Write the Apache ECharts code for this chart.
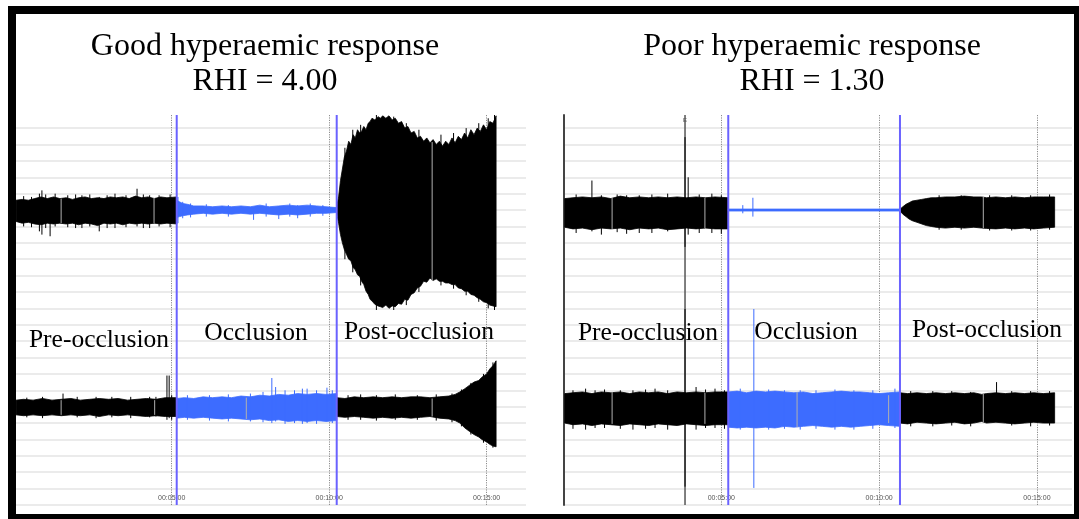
<!DOCTYPE html>
<html><head><meta charset="utf-8">
<script src="https://cdn.jsdelivr.net/npm/echarts@6/dist/echarts.min.js"></script>
<style>html,body{margin:0;padding:0;background:#fff}#c{width:1079px;height:519px}</style>
</head><body><div id="c"></div>
<script>
// ---------- DATA (time in minutes, amplitude in arbitrary units; 10 units per grid line) ----------
const tickMinutes = [5, 10, 15];
const tickLabels = ['00:05:00', '00:10:00', '00:15:00'];
const titlesLeft = ['Good hyperaemic response', 'RHI = 4.00'];
const titlesRight = ['Poor hyperaemic response', 'RHI = 1.30'];
const phaseLabels = ['Pre-occlusion', 'Occlusion', 'Post-occlusion'];

// occlusion start / end markers (minutes)
const occLeft = [5.16, 10.24];
const occRight = [5.22, 10.66];
const eventRight = 3.85;
const eventLabel = 'E';

// Envelopes: [time, low, high]
// Left panel, upper trace
const LT_pre = [[0.06,173,186],[0.25,172,186.5],[0.45,172.5,186],[0.65,171.5,187],[0.85,171,188],[1.05,172,187],[1.25,171.5,188],[1.45,172,187],[1.65,171.5,187.5],[1.85,172,186.5],[2.05,171,187.5],[2.25,172,188],[2.45,171.5,187],[2.65,170.5,187.5],[2.85,172,187],[3.05,171.5,188],[3.25,172,187.5],[3.45,171,188],[3.65,172,187],[3.85,171.5,188.5],[4.05,172,187.5],[4.25,171.5,188],[4.45,172,187],[4.65,171.5,188],[4.85,172,187.5],[5.16,171.5,188]];
const LT_occ = [[5.16,175.5,186],[5.25,176,185],[5.35,176.5,184],[5.5,177,183.5],[5.7,177.5,182.5],[6.0,178,182.5],[6.3,177.5,182],[6.6,178,182.5],[6.9,177.5,182],[7.2,178,182.5],[7.5,177.5,182],[7.8,178,183],[8.1,177.5,182],[8.4,177,182.5],[8.7,177.5,183],[9.0,177,182.5],[9.3,177.5,183],[9.6,178,182.5],[9.9,178,182],[10.24,178.5,181.5]];
const LT_post = [[10.24,178,182],[10.3,172,188],[10.36,165,198],[10.42,160,205],[10.48,156,212],[10.55,153,216],[10.62,150,222],[10.69,149,220],[10.76,145,226],[10.83,143.5,224],[10.9,140.5,229],[10.97,139.5,227],[11.03,136.5,228],[11.1,134.5,231],[11.17,130.5,229],[11.24,128.5,233],[11.3,125.5,234],[11.36,124.5,236],[11.45,122.5,235],[11.55,121.5,237],[11.63,121,236],[11.7,120.5,237.5],[11.8,122,236],[11.9,120,237.5],[12.0,121.5,235],[12.1,121,236],[12.2,123,233],[12.3,122.5,234],[12.4,125.5,230],[12.5,125,231],[12.6,128.5,227],[12.7,129.5,228],[12.8,132.5,224],[12.9,133.5,225],[13.0,136.5,222],[13.1,136,224],[13.2,138.5,221],[13.3,137,223],[13.4,138,220],[13.5,136.5,222],[13.6,136.5,219],[13.7,135.5,222],[13.8,135.5,220],[13.9,134.5,224],[14.0,134.5,221],[14.1,132.5,225],[14.2,132,223],[14.3,130.5,227],[14.4,130.5,224],[14.5,128.5,229],[14.6,128,226],[14.7,126.5,230],[14.8,125.5,228],[14.9,124,232],[15.0,123.5,229],[15.1,122,234],[15.2,121.5,233],[15.3,121,237.5]];
const LT_preSpikes = [[0.3,170,188.5],[0.55,169.5,188],[0.8,167,190],[0.88,165,192],[1.0,169,189.5],[1.14,164,187],[1.3,170,190],[1.7,169.5,189],[1.95,169,189.5],[2.15,169,189],[2.4,170,189.5],[2.7,167,188],[2.95,169,189],[3.2,169,190],[3.55,169.5,189],[3.9,170,193],[4.1,169,189.5],[4.3,169,189],[4.6,170,189],[4.95,169.5,189.5]];
const LT_occSpikes = [[5.2,172,188],[5.35,175,185],[5.6,175.5,184],[6.1,176,183.5],[6.8,176,183],[7.6,174,181],[8.0,176,184],[8.4,174.5,181],[8.75,176,184],[9.0,175,183],[9.4,176,184],[9.8,176.5,183]];
const LT_postSpikes = [[10.5,150,218],[10.75,142,229],[11.0,134,232],[11.5,119,238],[12.05,119,237],[12.45,122,233],[12.85,130,229],[13.55,134,226],[13.95,132,227],[14.35,128,230],[14.75,124,233],[15.05,120,236],[15.25,119,238]];
const LT_gaps = [[1.49,172,187],[4.44,172,187.5],[13.27,137,221.5]];

// Left panel, lower trace
const LB_pre = [[0.06,55,64],[0.3,54.5,64.5],[0.6,55,64],[0.9,54.5,65],[1.2,55,64],[1.5,54.5,64.5],[1.8,55,65],[2.1,54.5,64],[2.4,55,64.5],[2.7,54,65],[3.0,55,64.5],[3.3,54.5,65],[3.6,55,64],[3.9,54.5,64.5],[4.2,54,65],[4.5,54.5,64.5],[4.8,54,65.5],[5.16,54,65.5]];
const LB_occ = [[5.16,53,65],[5.4,53.5,65.5],[5.7,53,65],[6.0,53.5,66],[6.3,53,65.5],[6.6,52.5,66],[6.9,53,65.5],[7.2,52.5,66.5],[7.5,52,66],[7.8,52.5,67],[8.1,51.5,66.5],[8.4,52,67.5],[8.7,51,67],[9.0,51.5,68],[9.3,51,67.5],[9.6,51.5,68],[9.9,51,67.5],[10.24,51.5,68]];
const LB_post = [[10.24,54,65.5],[10.5,53.5,65],[10.8,54,66],[11.1,53.5,65.5],[11.4,53,66],[11.7,53.5,65.5],[12.0,53,66],[12.3,53.5,65.5],[12.6,53,66],[12.9,53.5,66],[13.2,54,65.5],[13.5,53,66],[13.8,52.5,66.5],[14.0,51.5,67.5],[14.15,50,69],[14.31,47,71],[14.45,45,73],[14.6,43,75],[14.75,41.5,76],[14.85,40,78],[15.0,38.5,80],[15.1,37,83],[15.2,36,85],[15.3,35.5,88]];
const LB_preSpikes = [[0.4,53.5,65.5],[0.9,53,66],[1.55,55,68],[2.0,53.5,66],[2.6,53,66],[3.1,53.5,66],[3.7,53,66],[4.3,53.5,66],[4.5,54,66],[4.85,52,79],[4.92,53,79],[5.0,52,67]];
const LB_occSpikes = [[5.5,52,67],[6.2,51.5,67],[6.8,51,67.5],[7.5,51,68],[7.9,50.5,69],[8.18,50,77.5],[8.3,51,72],[8.6,49.5,70],[8.9,50,70],[9.15,49.5,71],[9.3,50,71],[9.6,49.5,70],[9.93,51,71.6],[10.1,50,70]];
const LB_postSpikes = [[10.6,52,67],[11.0,52,67.5],[11.5,51.5,67],[12.1,52,67.5],[12.8,52,67],[13.4,51.5,67.5],[13.9,50.5,68],[14.2,48,70.5],[14.5,43,74.5],[14.9,38,80],[15.2,35,87]];
const LB_gaps = [[1.49,55,64],[4.46,55,64],[7.37,52.5,65.5],[13.27,54,65]];

// Right panel, upper trace
const RT_pre = [[0.04,169.5,187],[0.3,168.5,187.5],[0.6,169,188],[0.9,168,187.5],[1.2,169,188],[1.5,168.5,187],[1.8,169,188.5],[2.1,168,187.5],[2.4,169,188],[2.7,168.5,187.5],[3.0,169,188],[3.3,168,187.5],[3.6,168.5,188],[3.9,169,187.5],[4.2,168.5,188],[4.5,169,187.5],[4.8,168.5,188],[5.22,168.5,187.5]];
const RT_occ = [[5.22,179.4,180.6],[10.66,179.4,180.6]];
const RT_post = [[10.66,179.5,180.5],[10.75,177.5,182],[10.85,176,183.5],[10.95,174.5,184.5],[11.05,173.5,185.5],[11.2,172.5,186],[11.35,171.5,186.5],[11.5,170.5,187],[11.65,170,187.5],[11.8,169.5,187.5],[12.1,169,188],[12.4,169.5,188],[12.7,169,188.5],[13.0,169.5,188],[13.25,169,188],[13.4,168.8,187.5],[13.7,168.5,188],[14.0,169,187.5],[14.3,168.5,188],[14.6,169,187.5],[14.9,168.5,188],[15.2,169,188],[15.56,169.5,188]];
const RT_preSpikes = [[0.4,166,189.5],[0.9,167,198],[1.2,165,189],[1.7,166.5,189.5],[2.0,165.5,189],[2.4,166,189],[2.8,166,189.5],[3.3,167,190],[3.85,157.5,224.5],[3.95,165,200],[4.3,166,189.5],[4.7,166,190],[5.0,165.5,189]];
const RT_occSpikes = [[5.68,178,183],[6.0,176,187.5]];
const RT_postSpikes = [[11.9,168,189],[12.6,168,189],[13.5,167.5,189],[14.2,167.5,189],[14.8,167.5,189],[15.4,168,189.5]];
const RT_gaps = [[1.54,168.5,187.5],[4.48,169,187.5],[13.3,169,188]];

// Right panel, lower trace
const RB_pre = [[0.04,50,68],[0.3,49,68.5],[0.6,49.5,69],[0.9,48.5,68],[1.2,49.5,69],[1.5,49,68.5],[1.8,48.5,69],[2.1,49.5,68],[2.4,49,69],[2.7,48.5,68.5],[3.0,49.5,69],[3.3,49,68],[3.6,48.5,69],[3.9,49.5,68.5],[4.2,49,69],[4.5,48.5,68.5],[4.8,49,69],[5.22,49,69]];
const RB_occ = [[5.22,47.5,69],[5.5,47,69.5],[5.8,47.5,68.5],[6.1,47,69.5],[6.4,47.5,69],[6.7,47,69.5],[7.0,48,69],[7.3,47.5,68.5],[7.6,48,69],[7.9,48.5,68],[8.2,48,68.5],[8.5,47.5,69],[8.8,48,69.5],[9.1,47.5,69],[9.4,48,69],[9.7,48.5,68.5],[10.0,49,68],[10.3,48.5,68.5],[10.66,48,69]];
const RB_post = [[10.66,50,68.5],[10.9,49.5,68],[11.2,50.5,68.5],[11.5,50,68],[11.8,49.5,68.5],[12.1,50,68],[12.4,50.5,68.5],[12.7,49.5,68],[13.0,50,68.5],[13.25,51,67.5],[13.4,50,68],[13.7,50.5,68.5],[14.0,50,68],[14.3,49.5,68.5],[14.6,50,68],[14.9,50.5,68.5],[15.2,50,68],[15.56,50,68.5]];
const RB_preSpikes = [[0.3,46.5,70],[0.7,46,71],[1.0,47,70],[1.3,47,70.5],[1.8,46.5,70],[2.2,46,70],[2.6,46.5,70.5],[2.9,47,71],[3.3,46,70],[3.85,11.2,119.6],[4.2,46,72],[4.5,47,70.5],[4.8,47,71],[5.1,46.5,70]];
const RB_occSpikes = [[5.6,46,71],[6.03,10.4,119.6],[6.5,46,70.5],[7.0,46.5,70],[7.5,46,70],[8.0,46.5,70],[8.6,46,70.5],[9.2,46,70],[9.8,46.5,70],[10.5,47,71]];
const RB_postSpikes = [[11.0,48,69.5],[11.7,48,69.5],[12.3,48.5,69.5],[12.9,48,69],[13.72,52,75],[14.2,48.5,69.5],[14.8,48,69.5],[15.4,48.5,69.5]];
const RB_gaps = [[1.54,49.5,69],[4.48,49.5,68.5],[7.4,47.5,69],[10.3,50,67],[13.3,50.5,68]];

// ---------- STYLE ----------
const BLACK = '#000000';
const BLUE = '#3d6cff';
const MARK = '#6a62ff';
const GRID = '#e4e4e4';
const GAP = '#b0b0b0';
const serif = '"Liberation Serif", "Times New Roman", serif';

function bandSeries(gi, pts, color) {
  return {
    type: 'custom', xAxisIndex: gi, yAxisIndex: gi, silent: true, z: 3,
    data: [[pts[0][0], pts[0][1]]], encode: {x: 0, y: 1},
    renderItem: function (params, api) {
      const up = pts.map(p => api.coord([p[0], p[2]]));
      const dn = pts.slice().reverse().map(p => api.coord([p[0], p[1]]));
      return {type: 'polygon', shape: {points: up.concat(dn)},
        style: {fill: color, stroke: color, lineWidth: 0.8}};
    }
  };
}
function spikeSeries(gi, pts, color, w, z) {
  return {
    type: 'custom', xAxisIndex: gi, yAxisIndex: gi, silent: true, z: z || 4,
    data: pts, encode: {x: 0, y: [1, 2]},
    renderItem: function (params, api) {
      const a = api.coord([api.value(0), api.value(1)]);
      const b = api.coord([api.value(0), api.value(2)]);
      return {type: 'line', shape: {x1: a[0], y1: a[1], x2: b[0], y2: b[1]},
        style: {stroke: color, lineWidth: w || 1}};
    }
  };
}
function markSeries(gi, times, color, w, z) {
  return {
    type: 'custom', xAxisIndex: gi, yAxisIndex: gi, silent: true, z: z || 6,
    data: times.map(t => [t]), encode: {x: 0},
    renderItem: function (params, api) {
      const a = api.coord([api.value(0), 0]);
      const b = api.coord([api.value(0), 238]);
      return {type: 'line', shape: {x1: a[0], y1: a[1], x2: b[0], y2: b[1]},
        style: {stroke: color, lineWidth: w}};
    }
  };
}

const XMAX = [16.25, 16.11];
function xAxis(gi) {
  return {
    type: 'value', gridIndex: gi, min: 0, max: XMAX[gi], interval: 5,
    axisLine: {show: false}, axisTick: {show: false},
    axisLabel: {inside: true, margin: 3, fontSize: 7, color: '#555', fontFamily: '"Liberation Sans", Arial',
      showMinLabel: false, showMaxLabel: false,
      formatter: v => { const i = tickMinutes.indexOf(v); return i >= 0 ? tickLabels[i] : ''; }},
    splitLine: {show: true, showMinLine: false, showMaxLine: false,
      lineStyle: {color: '#8c8c8c', type: [1.2, 1.2], width: 1}}
  };
}
function yAxis(gi) {
  return {
    type: 'value', gridIndex: gi, min: 0, max: 238, interval: 10,
    axisLabel: {show: false}, axisTick: {show: false},
    axisLine: {show: gi === 1, lineStyle: {color: '#444', width: 2}},
    splitLine: {show: true, showMaxLine: false, lineStyle: {color: GRID, width: 1.6}}
  };
}

function txt(x, y, s, size) {
  return {type: 'text', x: x, y: y, z: 10,
    style: {text: s, fill: '#000', font: size + 'px ' + serif, textAlign: 'center', textVerticalAlign: 'middle'}};
}

const chart = echarts.init(document.getElementById('c'), null, {renderer: 'canvas'});
chart.setOption({
  animation: false,
  backgroundColor: '#fff',
  grid: [
    {left: 14.2, top: 115, width: 511.8, height: 390},
    {left: 563.5, top: 115, width: 508.5, height: 390}
  ],
  xAxis: [xAxis(0), xAxis(1)],
  yAxis: [yAxis(0), yAxis(1)],
  series: [
    bandSeries(0, LT_pre, BLACK), bandSeries(0, LT_occ, BLUE), bandSeries(0, LT_post, BLACK),
    bandSeries(0, LB_pre, BLACK), bandSeries(0, LB_occ, BLUE), bandSeries(0, LB_post, BLACK),
    spikeSeries(0, LT_preSpikes, BLACK), spikeSeries(0, LT_occSpikes, BLUE), spikeSeries(0, LT_postSpikes, BLACK),
    spikeSeries(0, LB_preSpikes, BLACK), spikeSeries(0, LB_occSpikes, BLUE), spikeSeries(0, LB_postSpikes, BLACK),
    spikeSeries(0, LT_gaps, GAP, 1, 5), spikeSeries(0, LB_gaps, GAP, 1, 5),
    markSeries(0, occLeft, MARK, 2),

    bandSeries(1, RT_pre, BLACK), bandSeries(1, RT_occ, BLUE), bandSeries(1, RT_post, BLACK),
    bandSeries(1, RB_pre, BLACK), bandSeries(1, RB_occ, BLUE), bandSeries(1, RB_post, BLACK),
    spikeSeries(1, RT_preSpikes, BLACK), spikeSeries(1, RT_occSpikes, BLUE), spikeSeries(1, RT_postSpikes, BLACK),
    spikeSeries(1, RB_preSpikes, BLACK), spikeSeries(1, RB_occSpikes, BLUE), spikeSeries(1, RB_postSpikes, BLACK),
    spikeSeries(1, RT_gaps, GAP, 1, 5), spikeSeries(1, RB_gaps, GAP, 1, 5),
    markSeries(1, [eventRight], '#555', 1.5, 2),
    markSeries(1, occRight, MARK, 2),
    {
      type: 'custom', xAxisIndex: 1, yAxisIndex: 1, silent: true, z: 7,
      data: [[eventRight, 235]], encode: {x: 0, y: 1},
      renderItem: function (params, api) {
        const p = api.coord([api.value(0), api.value(1)]);
        return {type: 'text', x: p[0], y: p[1],
          style: {text: eventLabel, font: '6px "Liberation Sans"', fill: '#555', textAlign: 'center', textVerticalAlign: 'middle'}};
      }
    }
  ],
  graphic: [
    txt(265, 47, titlesLeft[0], 32), txt(265, 82, titlesLeft[1], 32),
    txt(812, 47, titlesRight[0], 32), txt(812, 82, titlesRight[1], 32),
    txt(99, 340, phaseLabels[0], 25.5), txt(256, 333, phaseLabels[1], 25.5), txt(419, 332, phaseLabels[2], 25.5),
    txt(648, 333, phaseLabels[0], 25.5), txt(806, 332, phaseLabels[1], 25.5), txt(987, 330, phaseLabels[2], 25.5),
    {type: 'rect', z: 20, shape: {x: 12, y: 10, width: 1066, height: 508},
      style: {fill: 'none', stroke: '#000', lineWidth: 8}}
  ]
});
</script></body></html>
